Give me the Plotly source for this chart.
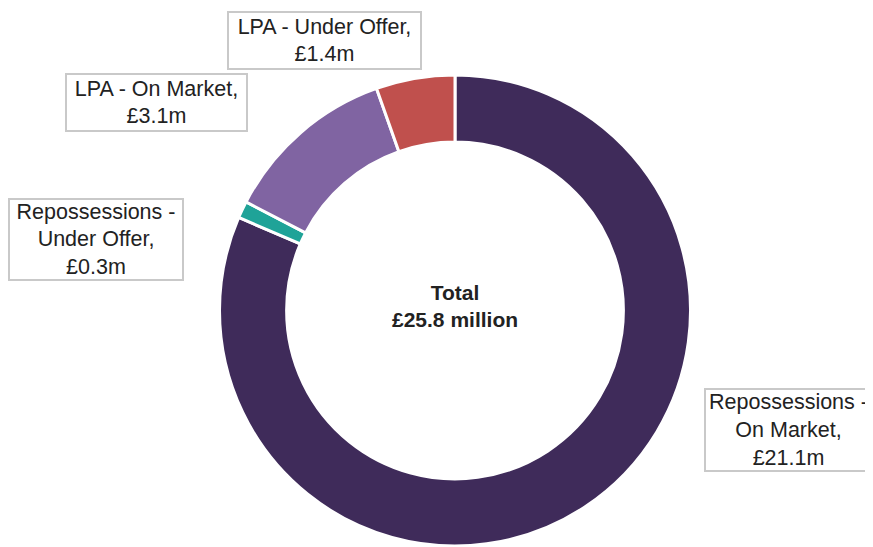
import plotly.graph_objects as go

# Browser body margin offset (page is shifted by 8 px)
OFF = 8
W, H = 873 - OFF, 547 - OFF

categories = ["Repossessions - On Market", "Repossessions - Under Offer",
              "LPA - On Market", "LPA - Under Offer"]
values = [21.1, 0.3, 3.1, 1.4]
value_labels = ["£21.1m", "£0.3m", "£3.1m", "£1.4m"]
colors = ["#3F2B5A", "#1FA398", "#8064A2", "#C0504D"]
total_label = "£25.8 million"

label_texts = [
    "Repossessions -<br>On Market,<br>" + value_labels[0],
    "Repossessions -<br>Under Offer,<br>" + value_labels[1],
    categories[2] + ",<br>" + value_labels[2],
    categories[3] + ",<br>" + value_labels[3],
]

# box centers (px in reference screen coords) and sizes
boxes = [
    (788.5, 430, 165, 80),
    (96, 239.5, 172, 79),
    (156.5, 102.5, 179, 55),
    (324.5, 40.5, 191, 55),
]

cx, cy, r = 455, 310.5, 235.5


def px(x):
    return (x - OFF) / W


def py(y):
    return 1 - (y - OFF) / H


fig = go.Figure()
fig.add_trace(go.Pie(
    labels=categories, values=values, sort=False, direction="clockwise",
    rotation=0, hole=0.715, textinfo="none", hoverinfo="label+value",
    marker=dict(colors=colors, line=dict(color="white", width=3)),
    domain=dict(x=[px(cx - r), px(cx + r)],
                y=[py(cy + r), py(cy - r)]),
    showlegend=False,
))

font = dict(family="Liberation Sans, Arial, sans-serif", size=21.5, color="#222222")
for txt, (bx, by, bw, bh) in zip(label_texts, boxes):
    fig.add_annotation(
        x=px(bx), y=py(by), xref="paper", yref="paper",
        xanchor="center", yanchor="middle", text=txt, showarrow=False,
        font=font, align="center", bgcolor="white",
        bordercolor="#C9C9C9", borderwidth=2, borderpad=0,
        width=bw, height=bh,
    )

fig.add_annotation(
    x=px(cx), y=py(306), xref="paper", yref="paper",
    xanchor="center", yanchor="middle", showarrow=False,
    text="<b>Total</b><br><b>" + total_label + "</b>",
    font=dict(family="Liberation Sans, Arial, sans-serif", size=21, color="#222222"),
    align="center",
)

fig.update_layout(
    width=W, height=H, margin=dict(l=0, r=0, t=0, b=0),
    paper_bgcolor="white", plot_bgcolor="white",
)

fig.write_html("out.html")
